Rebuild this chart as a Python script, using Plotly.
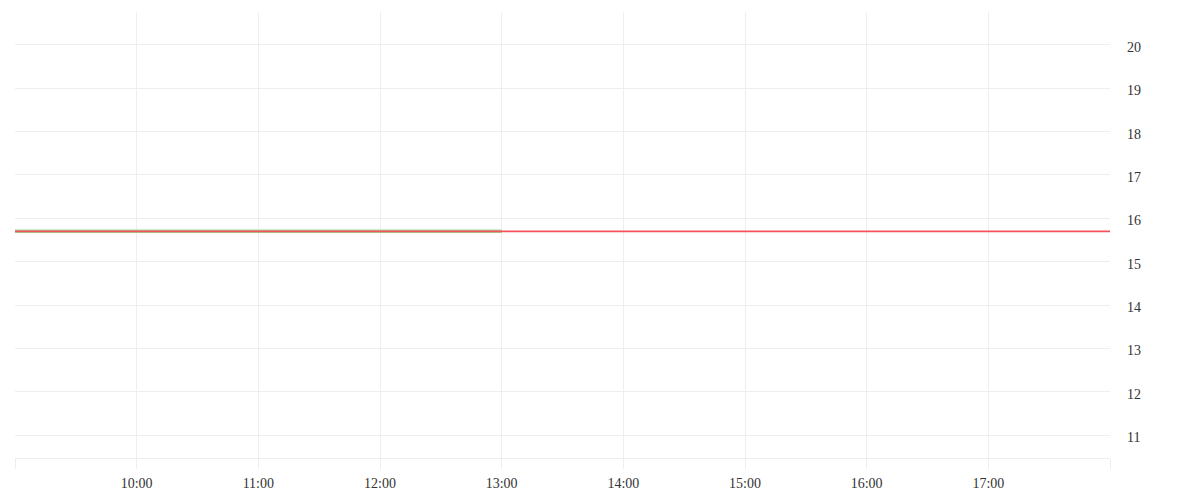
import plotly.graph_objects as go

# Data
day = "2024-01-02"
price_times = ["09:00", "10:00", "11:00", "12:00", "13:00"]
price_values = [15.70, 15.70, 15.70, 15.70, 15.70]
ref_times = ["09:00", "18:00"]
ref_values = [15.70, 15.70]
tick_hours = ["09:00", "10:00", "11:00", "12:00", "13:00", "14:00", "15:00", "16:00", "17:00", "18:00"]
tick_labels = ["", "10:00", "11:00", "12:00", "13:00", "14:00", "15:00", "16:00", "17:00", ""]
y_ticks = [11, 12, 13, 14, 15, 16, 17, 18, 19, 20]
y_range = [10.47, 20.76]

def ts(t):
    return f"{day} {t}"

fig = go.Figure()
fig.add_trace(go.Scatter(
    x=[ts(t) for t in price_times], y=price_values, mode="lines",
    line=dict(color="#97dc97", width=3.4), showlegend=False, hoverinfo="skip"))
fig.add_trace(go.Scatter(
    x=[ts(t) for t in ref_times], y=ref_values, mode="lines",
    line=dict(color="#f5525c", width=1.8), showlegend=False, hoverinfo="skip"))

fig.update_layout(
    width=1200, height=500,
    margin=dict(l=7, r=98, t=4, b=50),
    paper_bgcolor="white", plot_bgcolor="white",
    font=dict(family="Liberation Serif", size=14, color="#333333"),
    showlegend=False,
)
fig.update_xaxes(
    type="date",
    range=[ts("09:00"), ts("18:00")],
    tickmode="array",
    tickvals=[ts(t) for t in tick_hours],
    ticktext=tick_labels,
    showgrid=True, gridcolor="#eeeeee", gridwidth=1,
    ticks="outside", ticklen=10, tickcolor="#eeeeee", tickwidth=1,
    showline=True, linecolor="#eeeeee", linewidth=1,
    zeroline=False,
    ticklabelstandoff=2,
    tickfont=dict(family="Liberation Serif", size=14, color="#333333"),
)
fig.update_yaxes(
    side="right",
    range=y_range,
    tickmode="array",
    tickvals=y_ticks,
    ticktext=[str(v) for v in y_ticks],
    showgrid=True, gridcolor="#eeeeee", gridwidth=1,
    ticks="", showline=False, zeroline=False,
    ticklabelstandoff=16,
    ticklabelshift=2,
    tickfont=dict(family="Liberation Serif", size=14, color="#333333"),
)

fig.write_html("out.html")
